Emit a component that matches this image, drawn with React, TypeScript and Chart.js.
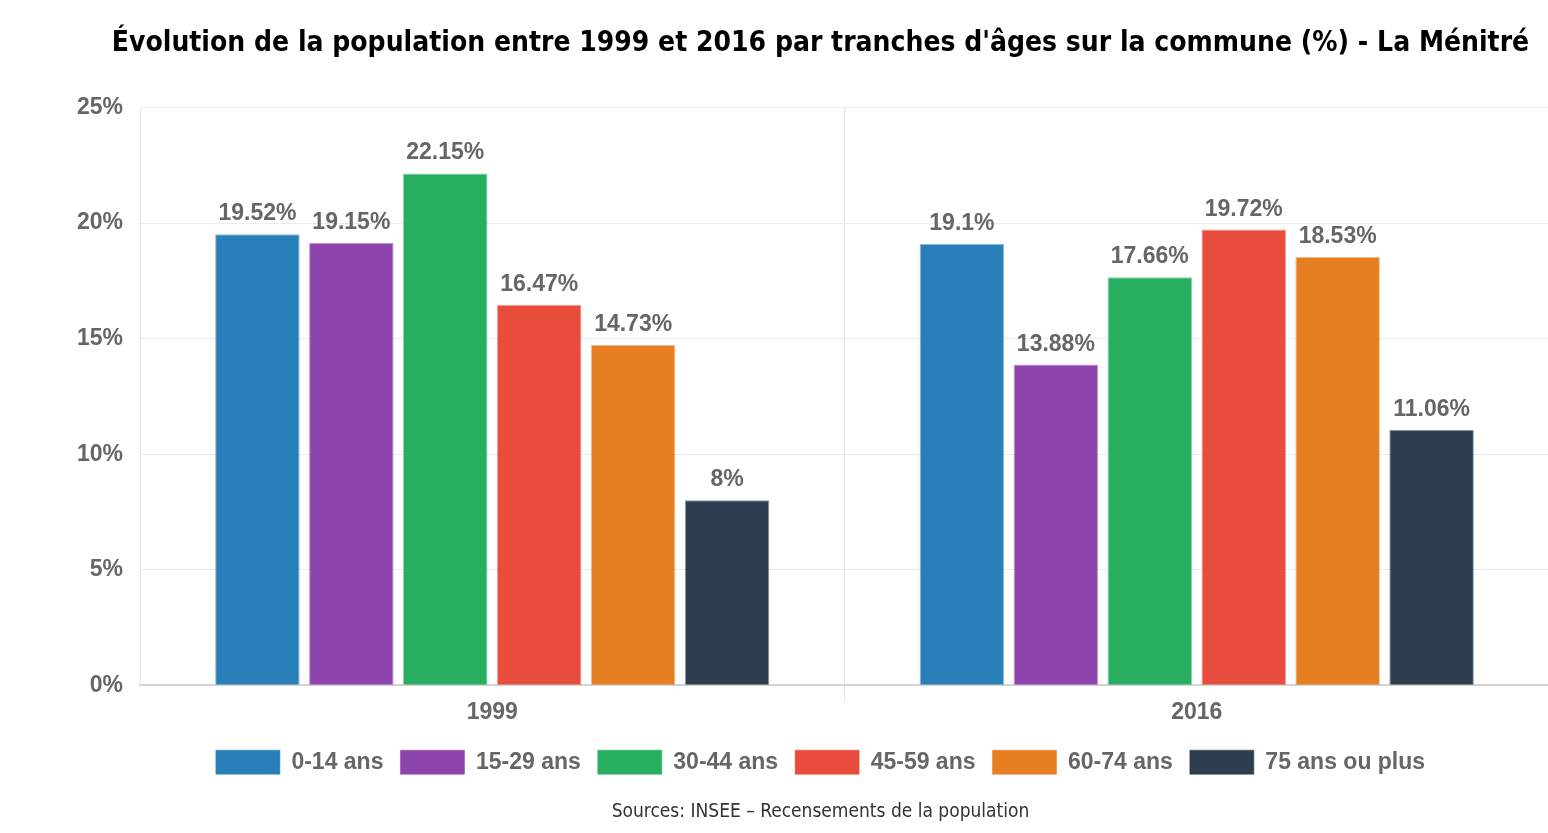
import { useEffect, useRef } from 'react';
import { Chart, registerables } from 'chart.js';

Chart.register(...registerables);

const categories = ['1999', '2016'];
const ageGroups = ['0-14 ans', '15-29 ans', '30-44 ans', '45-59 ans', '60-74 ans', '75 ans ou plus'];
const values1999 = [19.52, 19.15, 22.15, 16.47, 14.73, 8];
const values2016 = [19.1, 13.88, 17.66, 19.72, 18.53, 11.06];
const colors = ['#2980b9', '#8e44ad', '#27ae60', '#e74c3c', '#e67e22', '#2c3e50'];
const yMax = 25;
const yStep = 5;
const titleText = "Évolution de la population entre 1999 et 2016 par tranches d'âges sur la commune (%) - La Ménitré";
const sourceText = 'Sources: INSEE – Recensements de la population';

const BOLD_FAMILY = "'Liberation Sans', Arial, sans-serif";
const TAHOMA_LIKE = "'DejaVu Sans Condensed', 'DejaVu Sans', sans-serif";

const valueLabels = {
  id: 'valueLabels',
  afterDatasetsDraw(chart: any) {
    const ctx = chart.ctx;
    ctx.save();
    ctx.font = `bold 23px ${BOLD_FAMILY}`;
    ctx.fillStyle = '#666';
    ctx.textAlign = 'center';
    ctx.textBaseline = 'alphabetic';
    chart.data.datasets.forEach((ds: any, di: number) => {
      const meta = chart.getDatasetMeta(di);
      meta.data.forEach((el: any, i: number) => {
        const v = ds.data[i];
        ctx.fillText(`${v}%`, el.x, el.y - 14);
      });
    });
    ctx.restore();
  },
};

export default function App() {
  const ref = useRef<HTMLCanvasElement | null>(null);

  useEffect(() => {
    document.body.style.margin = '0';
    if (!ref.current) return;
    const chart = new Chart(ref.current, {
      type: 'bar',
      data: {
        labels: categories,
        datasets: ageGroups.map((g, i) => ({
          label: g,
          data: [values1999[i], values2016[i]],
          backgroundColor: colors[i],
          borderColor: colors[i] + '88',
          borderWidth: 1,
        })),
      },
      options: {
        animation: false,
        responsive: false,
        maintainAspectRatio: false,
        layout: { padding: 0 },
        plugins: {
          title: {
            display: true,
            text: titleText,
            color: '#000',
            font: { family: TAHOMA_LIKE, size: 28, weight: 'bold' },
            padding: { top: 27, bottom: 47 },
          },
          subtitle: {
            display: true,
            position: 'bottom',
            text: sourceText,
            color: '#333',
            font: { family: TAHOMA_LIKE, size: 19, weight: 'normal' },
            padding: { top: 16.5, bottom: 9.5 },
          },
          legend: {
            position: 'bottom',
            labels: {
              boxWidth: 64,
              boxHeight: 24,
              padding: 17,
              color: '#666',
              font: { family: BOLD_FAMILY, size: 23, weight: 'bold' },
            },
          },
          tooltip: { enabled: false },
        },
        scales: {
          x: {
            afterFit: (s: any) => {
              s.height = 48;
            },
            grid: {
              display: true,
              offset: true,
              tickLength: 16,
              color: (c: any) => (c.index === 0 ? 'rgba(0,0,0,0)' : '#e3e3e3'),
            },
            border: { display: true, color: '#d4d4d4', width: 2 },
            ticks: {
              color: '#666',
              padding: -2,
              font: { family: BOLD_FAMILY, size: 23, weight: 'bold' },
            },
          },
          y: {
            min: 0,
            max: yMax,
            afterFit: (s: any) => {
              s.width = 140;
            },
            grid: { drawTicks: false, color: '#ececec' },
            border: { display: true, color: '#e6e6e6', width: 1 },
            ticks: {
              stepSize: yStep,
              padding: 17,
              color: '#666',
              font: { family: BOLD_FAMILY, size: 23, weight: 'bold' },
              callback: (v: any) => `${v}%`,
            },
          },
          yRight: {
            type: 'linear',
            position: 'right',
            display: true,
            grid: { display: false },
            border: { display: false },
            ticks: { display: false },
            afterFit: (s: any) => {
              s.width = 92;
            },
          },
        },
      } as any,
      plugins: [valueLabels],
    });
    return () => chart.destroy();
  }, []);

  return (
    <div style={{ position: 'fixed', left: 0, top: 0, width: 1548, height: 833, overflow: 'hidden', background: '#fff' }}>
      <canvas ref={ref} width={1641} height={833} style={{ display: 'block', width: 1641, height: 833 }} />
    </div>
  );
}
